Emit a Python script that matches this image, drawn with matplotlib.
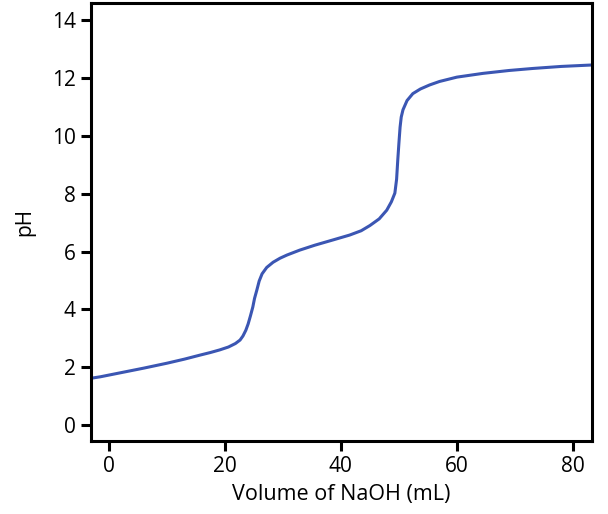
import matplotlib
matplotlib.use('Agg')
import matplotlib.pyplot as plt

# volume of NaOH added (mL) and pH
volume = [-3.1, -1.5, 0, 3, 6, 10, 13, 15.7, 17.5, 19.1, 20.6, 21.8, 22.6, 23.1,
          23.6, 24.0, 24.4, 24.8, 25.1, 25.5, 25.9, 26.4, 27.2, 28.3, 29.5, 30.7,
          32.9, 35.5, 38.6, 41.5, 43.5, 45.0, 46.6, 47.9, 48.7, 49.3, 49.6, 49.8,
          50.0, 50.2, 50.4, 50.7, 51.4, 52.4, 53.7, 55.3, 57.0, 60.0, 64.5, 69,
          73.1, 78, 83.3]
ph = [1.62, 1.67, 1.73, 1.85, 1.97, 2.14, 2.28, 2.42, 2.51, 2.6, 2.7, 2.82,
      2.94, 3.08, 3.28, 3.5, 3.78, 4.08, 4.38, 4.67, 4.98, 5.23, 5.45, 5.63,
      5.77, 5.88, 6.05, 6.22, 6.4, 6.57, 6.72, 6.9, 7.13, 7.43, 7.72, 8.02,
      8.5, 9.16, 9.75, 10.3, 10.65, 10.9, 11.22, 11.46, 11.62, 11.76, 11.88,
      12.03, 12.16, 12.26, 12.33, 12.4, 12.45]

xticks = [0, 20, 40, 60, 80]
yticks = [0, 2, 4, 6, 8, 10, 12, 14]

plt.rcParams['font.family'] = ['Open Sans', 'DejaVu Sans']

fig = plt.figure(figsize=(6.08, 5.14), dpi=100)
ax = fig.add_axes([0.1497, 0.142, 0.824, 0.852])

ax.plot(volume, ph, color='#3b56b3', linewidth=2.2, solid_capstyle='round',
        solid_joinstyle='round')

ax.set_xlim(-3.1, 83.3)
ax.set_ylim(-0.55, 14.59)
ax.set_xticks(xticks)
ax.set_yticks(yticks)

for s in ax.spines.values():
    s.set_linewidth(2.2)
ax.tick_params(direction='out', length=7, width=2.2, labelsize=15, pad=4)

ax.set_xlabel('Volume of NaOH (mL)', fontsize=15.5, labelpad=5)
ax.set_ylabel('pH', fontsize=15, labelpad=12)

fig.savefig('out.png', dpi=100)
